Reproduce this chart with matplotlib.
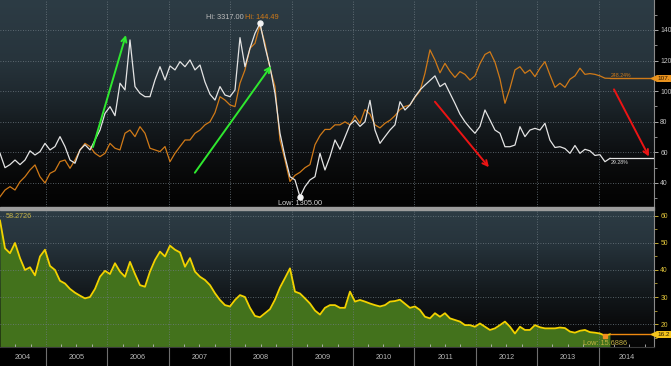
import numpy as np
import pandas as pd
import matplotlib
matplotlib.use("Agg")
import matplotlib.pyplot as plt
import matplotlib.dates as mdates
from matplotlib.colors import LinearSegmentedColormap
from matplotlib.ticker import MultipleLocator
from matplotlib.transforms import blended_transform_factory
from matplotlib.patches import Rectangle

plt.rcParams['font.family'] = ['Liberation Sans', 'DejaVu Sans']

# ---------------- data ----------------
series_start = "2004-04-02"
series_end = "2014-03-09"

white_index = [
    59.4, 50, 52, 55, 52, 55, 61, 58.3, 60.5, 65.9,
    61.6, 63.8, 70.3, 63.8, 55, 52.9, 61.6, 65, 61.6, 68.1,
    74.6, 85.5, 89.9, 84, 105.2, 100.8, 133.5, 103, 98.6, 96.4,
    96.4, 107.3, 116, 107.3, 116.5, 113.9, 119.3, 116, 120.4, 113.9,
    117.1, 106, 98, 94.2, 103, 97.5, 96.4, 100.8, 135, 116,
    128, 137.8, 144.4, 129.1, 116, 98.6, 72.5, 57.2, 44.1, 42,
    31, 37.6, 42, 44.1, 59.4, 48.5, 57.2, 68.1, 62, 70,
    78, 81, 77, 80, 94, 74.6, 65.9, 70.3, 74.6, 78,
    93.1, 87.7, 91, 96.4, 100.8, 104, 107, 110, 103, 105.2,
    98.6, 92, 85, 80, 76, 72.5, 77, 87.7, 81.2, 74.6,
    72.5, 63.7, 63.7, 64.8, 76.8, 70.3, 74.6, 75.7, 74.6, 79,
    68, 63.2, 63.7, 62.5, 59.4, 64.5, 59.4, 62, 61, 58,
    58.5, 53.9, 56.1,
]

oil_index = [
    31, 35.4, 37.6, 35.4, 40.8, 44.1, 48.5, 51.8, 44.1, 40,
    46.3, 48, 54, 55, 49.6, 55, 61.6, 65.9, 63.8, 59.4,
    57.2, 59.4, 65.9, 62.7, 61.6, 72.5, 74.6, 70.3, 76.8, 72.5,
    62.7, 61.6, 60.5, 63.8, 53.9, 59.4, 63.8, 68.1, 68.1, 72.5,
    74.6, 78, 80, 86, 96.4, 94.2, 91, 89.9, 105.2, 113.9,
    128, 131.3, 143.3, 131.3, 115, 103, 68.1, 55, 41, 45,
    47, 50, 52, 65, 71, 75, 75, 78, 78, 80,
    78, 84, 79, 88, 85, 78, 76, 79, 81, 84,
    88, 90, 91, 96, 100, 111.7, 127, 120.4, 112, 118.2,
    113, 109, 112.8, 111, 107.3, 110, 118, 124, 125.8, 119,
    108, 92.1, 101.9, 113.9, 116, 111.7, 113.9, 109.5, 115, 119.3,
    110.6, 102.5, 105.2, 102.5, 107.8, 110, 115, 111, 111.5, 111,
    110, 108.5, 108.4,
]

ratio = [
    58.3, 48, 46.2, 50, 44.4, 40, 41, 38, 45, 47.5,
    41.5, 40, 36, 35, 33, 31.6, 30.5, 29.5, 30, 33,
    37.5, 39.7, 38.5, 42.5, 39.4, 37.5, 43, 38.5, 34.4, 33.8,
    39.4, 43.7, 46.8, 45, 49, 47.5, 46.5, 41.2, 44.4, 39.4,
    37.5, 36.3, 34.4, 31.4, 28.9, 27, 26.5, 28.9, 30.7, 30,
    26, 23, 22.5, 24, 25.5, 29, 33.5, 37, 40.6, 32,
    31.3, 29.5, 27.6, 25, 23.5, 26, 27, 27, 26, 26,
    32, 28.3, 28.9, 28.3, 27.6, 27, 26.5, 27, 28.3, 28.5,
    29, 27.5, 26, 26.5, 25.2, 22.7, 22.1, 24, 22.7, 24,
    22.1, 21.5, 20.9, 19.6, 19.6, 19, 20.2, 19, 17.8, 18.4,
    19.6, 20.9, 19, 16.5, 19, 17.8, 17.8, 19.6, 18.8, 18.4,
    18.4, 18.4, 18.7, 18.5, 17.2, 16.8, 17.5, 17.8, 17, 16.8,
    16.5, 15.7, 16.2,
]

years = list(range(2004, 2015))
view_start = pd.Timestamp("2004-04-02")
view_end = pd.Timestamp("2014-11-26")

white_hi_label = "Hi: 3317.00"
oil_hi_label = "Hi: 144.49"
white_low_label = "Low: 1305.00"
white_change = "29.28%"
oil_change = "248.24%"
oil_last_label = "107."
ratio_first_label = "58.2726"
ratio_low_label = "Low: 15.6886"
ratio_last_label = "16.2"

# arrows: (tail date, tail value, head date, head value, colour)
arrows = [
    ("2005-10-07", 63.5, "2006-04-21", 136.7, "#2fe82f"),
    ("2007-06-05", 46.7, "2008-08-31", 116.5, "#2fe82f"),
    ("2011-05-03", 93.1, "2012-03-19", 50.3, "#ec1414"),
    ("2014-04-02", 101.2, "2014-10-27", 57.3, "#ec1414"),
]

dates = pd.date_range(series_start, series_end, periods=len(white_index))

# ---------------- figure ----------------
W, H = 671, 366
fig = plt.figure(figsize=(W / 100, H / 100), dpi=100, facecolor="black")


def rect(x0, y0, x1, y1):
    return [x0 / W, 1 - y1 / H, (x1 - x0) / W, (y1 - y0) / H]


top_rect = rect(0, 0, 654, 207)
bot_rect = rect(0, 210, 654, 347)


def gradient_bg(r, stops):
    bg = fig.add_axes(r, zorder=0)
    cmap = LinearSegmentedColormap.from_list("g", stops)
    grad = np.linspace(0, 1, 256).reshape(-1, 1)
    bg.imshow(grad, aspect="auto", cmap=cmap, extent=[0, 1, 0, 1], origin="upper")
    bg.set_axis_off()


gradient_bg(top_rect, [(0, "#2d3c45"), (0.29, "#27343c"), (0.45, "#1f292f"),
                       (0.6, "#151b1f"), (0.74, "#0d0f11"), (0.88, "#070707"), (1, "#030303")])
gradient_bg(bot_rect, [(0, "#2d3c45"), (0.24, "#27343c"), (0.44, "#1c252b"),
                       (0.63, "#12171a"), (0.83, "#0a0b0c"), (1, "#050505")])

# separator band
fig.patches.append(Rectangle((0, 1 - 210 / H), 654 / W, 3 / H, transform=fig.transFigure,
                             color="#9c9c9c", zorder=5))

ax = fig.add_axes(top_rect, zorder=1)
axb = fig.add_axes(bot_rect, zorder=1, sharex=ax)
for a in (ax, axb):
    a.set_facecolor("none")
    for s in ("left", "top", "bottom"):
        a.spines[s].set_visible(False)
    a.spines["right"].set_color("#8a8a8a")
    a.spines["right"].set_linewidth(0.8)
    a.yaxis.tick_right()
    a.set_axisbelow("line")
    a.grid(True, which="major", color="#6e7a82", lw=0.6, linestyle=(0, (1, 2)))

ax.set_xlim(view_start, view_end)
ax.set_ylim(24.3, 159.6)
axb.set_ylim(11.5, 62.2)

# ---- top panel lines ----
ax.plot(dates, oil_index, color="#d07a18", lw=0.9, zorder=3)
ax.plot(dates, white_index, color="#e4e4e4", lw=0.9, zorder=4)
ax.plot([dates[-1], view_end], [oil_index[-1]] * 2, color="#d07a18", lw=1.0, zorder=3)
ax.plot([dates[-1], view_end], [white_index[-1]] * 2, color="#e4e4e4", lw=0.9, zorder=3)

i_hi = int(np.argmax(white_index))
i_lo = int(np.argmin(white_index))
ax.plot(dates[i_hi], white_index[i_hi], "o", color="#f4f4f4", ms=3.6, zorder=6, clip_on=False)
ax.plot(dates[i_lo], white_index[i_lo], "o", color="#f4f4f4", ms=3.6, zorder=6, clip_on=False)

ax.annotate(white_hi_label, (dates[i_hi], white_index[i_hi]), xytext=(-12, 4.4),
            textcoords="offset points", ha="right", va="center", fontsize=5.3, color="#bdbdbd")
ax.annotate(oil_hi_label, (dates[i_hi], white_index[i_hi]), xytext=(-11, 4.4),
            textcoords="offset points", ha="left", va="center", fontsize=5.3, color="#d07a18")
ax.annotate(white_low_label, (dates[i_lo], white_index[i_lo]), xytext=(0, -5.2),
            textcoords="offset points", ha="center", va="center", fontsize=5.3,
            color="#d4d4d4", annotation_clip=False)
ax.annotate(oil_change, (dates[-1], oil_index[-1]), xytext=(0.8, 2.0),
            textcoords="offset points", ha="left", va="center", fontsize=3.8, color="#d07a18")
ax.annotate(white_change, (dates[-1], white_index[-1]), xytext=(0.8, -3.3),
            textcoords="offset points", ha="left", va="center", fontsize=3.8, color="#d8d8d8")

for t0, v0, t1, v1, c in arrows:
    ax.annotate("", xy=(pd.Timestamp(t1), v1), xytext=(pd.Timestamp(t0), v0),
                arrowprops=dict(arrowstyle="->", color=c, lw=1.4, mutation_scale=9,
                                shrinkA=0, shrinkB=0), zorder=7)

# value box on right axis (top)
tr_top = blended_transform_factory(ax.transAxes, ax.transData)
ax.plot([1.0], [oil_index[-1]], marker="<", color="#e8921e", ms=4, transform=tr_top,
        clip_on=False, zorder=8)
ax.text(1.006, oil_index[-1], oil_last_label, transform=tr_top, ha="left", va="center",
        fontsize=4.6, color="#2a1500", clip_on=False, zorder=9,
        bbox=dict(boxstyle="square,pad=0.15", fc="#e8921e", ec="none"))

# ---- bottom panel ----
axb.fill_between(dates, ratio, 0, color="#43721c", lw=0, zorder=1)
axb.plot(dates, ratio, color="#f2d200", lw=1.3, zorder=3)
axb.plot([dates[-1], view_end], [ratio[-1]] * 2, color="#f08a10", lw=1.0, zorder=3)
i_rlo = int(np.argmin(ratio))
axb.plot(dates[i_rlo], ratio[i_rlo], "s", color="#f09020", ms=2.6, zorder=5)
axb.annotate(ratio_low_label, (dates[i_rlo], ratio[i_rlo]), xytext=(0, -5.6),
             textcoords="offset points", ha="center", va="center", fontsize=5.3,
             color="#c2b042", zorder=6)
axb.text(0.008, 0.956, ratio_first_label, transform=axb.transAxes, ha="left", va="center",
         fontsize=5.2, color="#c8b446")

tr_bot = blended_transform_factory(axb.transAxes, axb.transData)
axb.plot([1.0], [ratio[-1]], marker="<", color="#f4c41c", ms=4, transform=tr_bot,
         clip_on=False, zorder=8)
axb.text(1.006, ratio[-1], ratio_last_label, transform=tr_bot, ha="left", va="center",
         fontsize=4.6, color="#2a1e00", clip_on=False, zorder=9,
         bbox=dict(boxstyle="square,pad=0.15", fc="#f4c41c", ec="none"))

# ---- ticks ----
ax.yaxis.set_major_locator(MultipleLocator(20))
ax.yaxis.set_minor_locator(MultipleLocator(10))
ax.tick_params(axis="y", which="major", colors="#c4c4c4", labelsize=4.9, length=3, width=0.6, pad=1.5)
ax.tick_params(axis="y", which="minor", colors="#c4c4c4", length=2, width=0.5)
ax.xaxis.set_major_locator(mdates.YearLocator())
ax.tick_params(axis="x", which="both", length=0, labelbottom=False)

axb.yaxis.set_major_locator(MultipleLocator(10))
axb.yaxis.set_minor_locator(MultipleLocator(5))
axb.tick_params(axis="y", which="major", colors="#e0c43a", labelsize=4.9, length=3, width=0.6, pad=1.5)
axb.tick_params(axis="y", which="minor", colors="#e0c43a", length=2, width=0.5)
axb.xaxis.set_major_locator(mdates.YearLocator())
axb.xaxis.set_minor_locator(mdates.MonthLocator(bymonth=[4, 7, 10]))
axb.tick_params(axis="x", which="major", direction="out", length=14, width=0.8,
                color="#6e6e6e", labelbottom=False)
axb.tick_params(axis="x", which="minor", direction="in", length=2, width=0.6, color="#bcbcbc")
axb.spines["bottom"].set_visible(True)
axb.spines["bottom"].set_color("#3a3a3a")

tr_year = blended_transform_factory(axb.transData, axb.transAxes)
for y in years:
    a0 = max(pd.Timestamp(year=y, month=1, day=1), view_start)
    a1 = min(pd.Timestamp(year=y + 1, month=1, day=1), view_end)
    mid = a0 + (a1 - a0) / 2
    axb.text(mid, -0.073, str(y), transform=tr_year, ha="center", va="center",
             fontsize=5.2, color="#b8b8b8", clip_on=False)

fig.savefig("out.png", dpi=100, facecolor="black")
